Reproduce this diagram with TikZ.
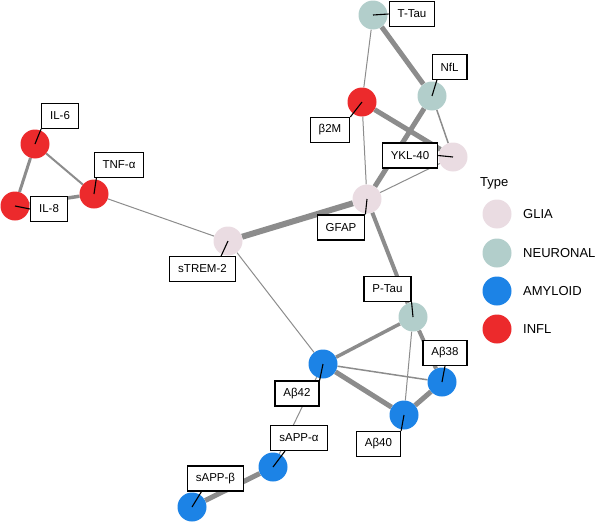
\documentclass[tikz,border=0pt]{standalone}
\usepackage{fontspec}
\setmainfont{Liberation Sans}
\usepackage{tikz}
\usetikzlibrary{calc, backgrounds}

\definecolor{gliaCol}{RGB}{234,220,226}
\definecolor{neurCol}{RGB}{178,206,203}
\definecolor{amylCol}{RGB}{28,131,230}
\definecolor{inflCol}{RGB}{236,42,44}
\definecolor{edgeCol}{RGB}{140,140,140}

\begin{document}
\begin{tikzpicture}[
	x=1pt, y=-1pt,
	dot/.style={circle, minimum size=29pt, inner sep=0pt},
	tag/.style={draw, fill=white, line width=1.1pt, inner xsep=8.5pt, minimum height=25pt, font=\fontsize{11.5}{13}\selectfont},
	link/.style={edgeCol},
	lead/.style={line width=1.1pt},
	key/.style={anchor=west, inner sep=0pt, font=\fontsize{13}{15}\selectfont}
	]
	
	\useasboundingbox (0,0) rectangle (600,522);
	
	% Markers
	\node[dot, fill=neurCol] (tTau) at (373,15) {};
	\node[dot, fill=neurCol] (nfl) at (432,96) {};
	\node[dot, fill=inflCol] (b2m) at (362,102) {};
	\node[dot, fill=gliaCol] (ykl) at (453,157) {};
	\node[dot, fill=gliaCol] (gfap) at (367,199) {};
	\node[dot, fill=gliaCol] (strem) at (228,241) {};
	\node[dot, fill=inflCol] (tnf) at (94,194) {};
	\node[dot, fill=inflCol] (il6) at (35,144) {};
	\node[dot, fill=inflCol] (il8) at (15,206) {};
	\node[dot, fill=neurCol] (pTau) at (413,317) {};
	\node[dot, fill=amylCol] (ab42) at (323,364) {};
	\node[dot, fill=amylCol] (ab38) at (442,382) {};
	\node[dot, fill=amylCol] (ab40) at (404,415) {};
	\node[dot, fill=amylCol] (sappa) at (273,467) {};
	\node[dot, fill=amylCol] (sappb) at (192,507) {};
	
	% Edges
	\begin{scope}[on background layer]
		\draw[link, line width=5pt] (tTau) -- (nfl);
		\draw[link, line width=1pt] (tTau) -- (b2m);
		\draw[link, line width=1pt] (b2m) -- (gfap);
		\draw[link, line width=5pt] (b2m) -- (ykl);
		\draw[link, line width=5pt] (nfl) -- (gfap);
		\draw[link, line width=1.5pt] (nfl) -- (ykl);
		\draw[link, line width=1pt] (ykl) -- (gfap);
		\draw[link, line width=6pt] (gfap) -- (strem);
		\draw[link, line width=4pt] (gfap) -- (pTau);
		\draw[link, line width=1pt] (strem) -- (tnf);
		\draw[link, line width=1pt] (strem) -- (ab42);
		\draw[link, line width=2pt] (tnf) -- (il6);
		\draw[link, line width=3.5pt] (tnf) -- (il8);
		\draw[link, line width=3pt] (il6) -- (il8);
		\draw[link, line width=3.5pt] (pTau) -- (ab42);
		\draw[link, line width=4pt] (pTau) -- (ab38);
		\draw[link, line width=1pt] (pTau) -- (ab40);
		\draw[link, line width=1.5pt] (ab42) -- (ab38);
		\draw[link, line width=5pt] (ab42) -- (ab40);
		\draw[link, line width=5pt] (ab40) -- (ab38);
		\draw[link, line width=1pt] (ab42) -- (sappa);
		\draw[link, line width=5pt] (sappa) -- (sappb);
	\end{scope}
	
	% Labels
	\node[tag] (tTauL) at (412,14) {T-Tau};
	\node[tag] (nflL) at (449.5,67) {NfL};
	\node[tag] (b2mL) at (330,130) {β2M};
	\node[tag] (yklL) at (410,155.5) {YKL-40};
	\node[tag] (gfapL) at (341,227.5) {GFAP};
	\node[tag] (stremL) at (202.5,269) {sTREM-2};
	\node[tag] (tnfL) at (119,165) {TNF-α};
	\node[tag] (il6L) at (60,116) {IL-6};
	\node[tag] (il8L) at (49,209) {IL-8};
	\node[tag] (pTauL) at (387.5,289) {P-Tau};
	\node[tag] (ab42L) at (297,393.5) {Aβ42};
	\node[tag] (ab38L) at (445,353) {Aβ38};
	\node[tag] (ab40L) at (378.5,444) {Aβ40};
	\node[tag] (sappaL) at (299,438) {sAPP-α};
	\node[tag] (sappbL) at (215.5,478.5) {sAPP-β};
	
	% Leaders
	\draw[lead] (tTau.center) -- (tTauL.west);
	\draw[lead] (nfl.center) -- (nflL.226);
	\draw[lead] (b2m.center) -- (b2mL.north east);
	\draw[lead] (ykl.center) -- (yklL.east);
	\draw[lead] (gfap.center) -- (gfapL.north east);
	\draw[lead] (strem.center) -- (stremL.35);
	\draw[lead] (tnf.center) -- (tnfL.210);
	\draw[lead] (il6.center) -- (il6L.south west);
	\draw[lead] (il8.center) -- (il8L.west);
	\draw[lead] (pTau.center) -- (pTauL.south east);
	\draw[lead] (ab42.center) -- (ab42L.north east);
	\draw[lead] (ab38.center) -- (ab38L.south);
	\draw[lead] (ab40.center) -- (ab40L.north east);
	\draw[lead] (sappa.center) -- (sappaL.223);
	\draw[lead] (sappb.center) -- (sappbL.223);
	
	% Legend
	\node[key] (typeHd) at (480,183) {Type};
	\node[dot, fill=gliaCol] (kGlia) at (497,214) {};
	\node[dot, fill=neurCol] (kNeur) at (497,253) {};
	\node[dot, fill=amylCol] (kAmyl) at (497,291) {};
	\node[dot, fill=inflCol] (kInfl) at (497,329) {};
	\node[key] (kGliaT) at ($(kGlia)+(26,0)$) {GLIA};
	\node[key] (kNeurT) at ($(kNeur)+(26,0)$) {NEURONAL};
	\node[key] (kAmylT) at ($(kAmyl)+(26,0)$) {AMYLOID};
	\node[key] (kInflT) at ($(kInfl)+(26,0)$) {INFL};
\end{tikzpicture}
\end{document}
